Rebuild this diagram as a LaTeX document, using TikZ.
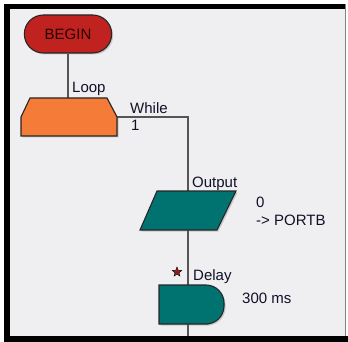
\documentclass[tikz,border=0pt]{standalone}
\usepackage{fontspec}
\setmainfont{Liberation Sans}
\usetikzlibrary{positioning,shapes.geometric,shapes.misc,shadows}
\definecolor{bgpanel}{HTML}{EFEFF2}
\definecolor{beginred}{HTML}{C0231F}
\definecolor{looporange}{HTML}{F57B38}
\definecolor{ioteal}{HTML}{007371}
\definecolor{wire}{HTML}{555555}
\definecolor{inktext}{HTML}{101028}

\begin{document}
\begin{tikzpicture}[x=1pt,y=-1pt, font=\fontsize{15}{17}\selectfont,
    block/.style={draw=black!85, line width=1.1pt, drop shadow={shadow xshift=1.5pt,shadow yshift=-1.5pt,opacity=.35}},
    lbl/.style={inner sep=0pt, anchor=base west, text=inktext},
    wireline/.style={draw=wire, line width=1.2pt}]

	% Panel and frame
	\useasboundingbox (0,0) rectangle (348,342);
	\fill[white] (0,0) rectangle (348,342);
	\fill[bgpanel] (10,9) rectangle (345,336);
	\fill[black] (4,4) rectangle (345,9);
	\fill[black] (4,4) rectangle (10,342);
	\fill[black] (4,336) rectangle (348,342);
	\draw[gray, line width=1pt] (345.5,4) -- (345.5,336);

	% Wire points
	\coordinate (looptop) at (68,98);
	\coordinate (loopexit) at (117,117);
	\coordinate (bend) at (188,117);
	\coordinate (wireend) at (188,336);

	% Start block
	\node[block, rounded rectangle, fill=beginred, minimum width=94pt, minimum height=38pt, text={black!85!red}] (begin) at (68,34) {BEGIN};

	% Wires (under the blocks)
	\draw[wireline] (begin.south) -- (looptop);
	\draw[wireline] (loopexit) -- (bend) -- (wireend);

	% Loop block
	\path[block, fill=looporange] (30,98) -- (107,98) -- (117,117) -- (117,136) -- (21,136) -- (21,117) -- cycle;

	% Output block
	\path[block, fill=ioteal] (157,191) -- (236,191) -- (217,230) -- (140,230) -- cycle;

	% Delay block
	\path[block, fill=ioteal] (159,285) -- (190,285) [rounded corners=18pt] -- (224,285) -- (224,324) -- (190,324) [sharp corners] -- (159,324) -- cycle;
	\node[star, star points=5, star point ratio=2.3, fill=beginred!80!black, draw=black, line width=.4pt, minimum size=10pt, inner sep=0pt] (delaystar) at (177,272) {};

	% Labels
	\node[lbl] (looplbl) at (72,93) {Loop};
	\node[lbl] (whilelbl) at (130,114) {While};
	\node[lbl] (whileval) at (131,131) {1};
	\node[lbl] (outlbl) at (192,187) {Output};
	\node[lbl] (outval) at (256,207) {0};
	\node[lbl] (outport) at (256,225) {-> PORTB};
	\node[lbl] (delaylbl) at (193,280) {Delay};
	\node[lbl] (delayval) at (242,303) {300 ms};

\end{tikzpicture}
\end{document}
